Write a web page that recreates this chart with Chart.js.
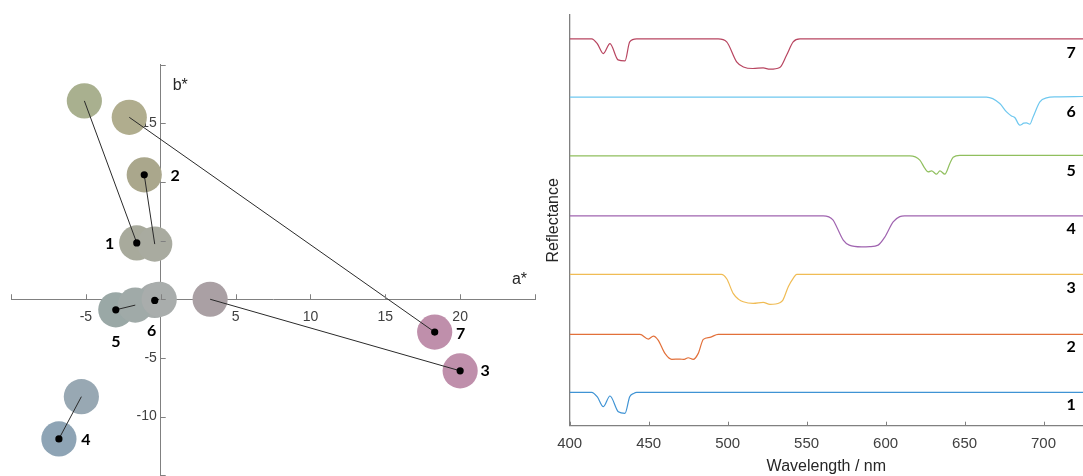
<!DOCTYPE html>
<html><head><meta charset="utf-8">
<script src="https://cdn.jsdelivr.net/npm/chart.js@4.4.1/dist/chart.umd.min.js"></script>
<style>
html,body{margin:0;padding:0;background:#fff;width:1083px;height:476px;overflow:hidden}
#c1{position:absolute;left:0;top:0}
#c2{position:absolute;left:540px;top:0}
</style></head><body>
<canvas id="c1" width="540" height="476"></canvas>
<canvas id="c2" width="543" height="476"></canvas>
<script>
// ---------- left panel data (CIELAB a*, b*) ----------
const sampleIds = ['1','2','3','4','5','6','7'];
const dotA = [-1.6, -1.1, 20.0, -6.8, -3.0, -0.4, 18.3];
const dotB = [4.8, 10.6, -6.1, -11.9, -0.9, -0.1, -2.8];
const refA = [-5.1, -0.4, 3.3, -5.3, -1.7, -0.1, -2.1];
const refB = [16.9, 4.7, 0.0, -8.3, -0.5, 0.0, 15.5];
const dotFill = ['#a8aa9c','#aaa78c','#bf8fab','#8ea4b5','#9aa8a6','#a6abaa','#bf8fab'];
const refFill = ['#a9b08f','#a9aba0','#aaa0a4','#98a8b3','#a0aaa8','#a9adac','#b0ad8e'];
const aTicks = [-10,-5,0,5,10,15,20,25];
const aTickLabels = ['','-5','','5','10','15','20',''];
const bTicks = [-15,-10,-5,0,5,10,15,20];
const bTickLabels = ['','-10','-5','','5','10','15',''];

// ---------- right panel data (reflectance spectra) ----------
const wlTicks = [400,450,500,550,600,650,700];
const traceIds = ['1','2','3','4','5','6','7'];
const traceOffsets = [0,1,2,3,4,5,6];
const traceColors = ['#3f93d4','#e2703a','#f0bc55','#a064b0','#90bf5e','#6fc8ef','#b84560'];
const wl1 = [400,413.9,417.5,421.3,425.5,430.8,435,438,440.5,442.4,725];
const r1  = [0.569,0.569,0.49,0.324,0.506,0.238,0.211,0.494,0.55,0.569,0.569];
const wl2 = [400,444.5,449.8,453,456,460.3,464.6,469.8,472.5,475,478.2,481.4,484.6,488.8,494,725];
const r2  = [0.557,0.557,0.477,0.528,0.460,0.233,0.131,0.136,0.13,0.158,0.131,0.233,0.472,0.506,0.557,0.557];
const wl3 = [400,496,499.5,503.5,507,509.9,516.2,522.5,526.8,533,535,538.4,541.5,543.7,725];
const r3  = [0.579,0.579,0.50,0.255,0.153,0.112,0.085,0.102,0.068,0.095,0.141,0.368,0.511,0.579,0.579];
const wl4 = [400,560.5,566.8,569,573.2,577,584.8,590,595.3,599.5,604.8,609,612,725];
const r4  = [0.577,0.577,0.504,0.390,0.163,0.078,0.049,0.052,0.078,0.214,0.475,0.563,0.577,0.577];
const wl5 = [400,615.4,621.7,624.9,627,629.1,632.3,634.4,637.5,640.7,642.8,647,725];
const r5  = [0.599,0.599,0.526,0.384,0.327,0.344,0.287,0.344,0.287,0.469,0.577,0.606,0.606];
const wl6 = [400,663.9,672.3,676.6,679.7,681.8,685,687.5,689.2,691.3,693.4,697.7,701.9,708.2,725];
const r6  = [0.599,0.599,0.491,0.348,0.28,0.253,0.122,0.156,0.161,0.139,0.263,0.519,0.587,0.604,0.611];
const wl7 = [400,413.9,417.5,421.3,425.5,430.6,435,438,442.4,494,499.4,505.7,510,516,522.5,526.8,533,537.3,541.5,545.8,725];
const r7  = [0.592,0.592,0.51,0.343,0.513,0.235,0.217,0.541,0.592,0.592,0.541,0.200,0.115,0.088,0.098,0.076,0.105,0.314,0.541,0.592,0.592];
const traceWl = [wl1,wl2,wl3,wl4,wl5,wl6,wl7];
const traceR = [r1,r2,r3,r4,r5,r6,r7];

const AX = '#808080', TXT = '#404040';
const tickFont = {family:'Liberation Sans, Arial, sans-serif', size:14};
const numFont = 'bold 16px Lato, "Open Sans", sans-serif';

// label offsets (px) of the sample numbers relative to their dots
const numOffsets = [[-27,1],[31,1],[25,0],[27,1],[0,32],[-3,30],[26,2]];

// ---------- left chart ----------
const dotPts = dotA.map((a,i)=>({x:a,y:dotB[i]}));
const refPts = refA.map((a,i)=>({x:a,y:refB[i]}));
const leftDatasets = [
  {type:'scatter', data:dotPts, pointRadius:3.6, pointBackgroundColor:'#000', pointBorderWidth:0, order:1},
];
sampleIds.forEach((id,i)=>{
  leftDatasets.push({type:'scatter', showLine:true, data:[refPts[i],dotPts[i]], borderColor:'#2a2a2a', borderWidth:1, pointRadius:0, order:2});
});
leftDatasets.push({type:'scatter', data:dotPts.concat(refPts), pointRadius:17.6, pointBorderWidth:0,
  pointBackgroundColor:dotFill.concat(refFill), order:3});

const zeroPad = s => { s.paddingLeft = 0; s.paddingRight = 0; s.paddingTop = 0; s.paddingBottom = 0; };

const leftPlugin = {
  id:'leftDeco',
  afterDraw(chart){
    const ctx = chart.ctx, xs = chart.scales.x, ys = chart.scales.y;
    const x0 = xs.getPixelForValue(0), y0 = ys.getPixelForValue(0);
    ctx.save();
    ctx.strokeStyle = AX; ctx.lineWidth = 1;
    ctx.beginPath();
    aTicks.forEach(v=>{ const p = Math.round(xs.getPixelForValue(v))+0.5; ctx.moveTo(p,y0); ctx.lineTo(p,y0-5); });
    bTicks.forEach(v=>{ const p = Math.round(ys.getPixelForValue(v))+0.5; ctx.moveTo(x0,p); ctx.lineTo(x0+5,p); });
    ctx.stroke();
    ctx.fillStyle = '#262626';
    ctx.font = '16px "Liberation Sans", Arial, sans-serif';
    ctx.textAlign = 'right'; ctx.textBaseline = 'alphabetic';
    ctx.fillText('a*', xs.right-8, y0-15);
    ctx.textAlign = 'left';
    ctx.fillText('b*', x0+12, ys.top+25.5);
    ctx.fillStyle = '#000'; ctx.font = numFont;
    ctx.textAlign = 'center'; ctx.textBaseline = 'middle';
    sampleIds.forEach((id,i)=>{
      const px = xs.getPixelForValue(dotA[i]) + numOffsets[i][0];
      const py = ys.getPixelForValue(dotB[i]) + numOffsets[i][1];
      ctx.fillText(id, px, py);
    });
    ctx.restore();
  }
};

new Chart(document.getElementById('c1'), {
  data:{datasets:leftDatasets},
  options:{
    responsive:false, animation:false,
    layout:{autoPadding:false, padding:{left:11, right:5, top:64.5, bottom:0.7}},
    plugins:{legend:{display:false}, tooltip:{enabled:false}},
    scales:{
      x:{type:'linear', min:-10, max:25, position:{y:0},
        afterBuildTicks:s=>{ s.ticks = aTicks.map(v=>({value:v})); },
        afterFit:zeroPad,
        ticks:{callback:(v,i)=>aTickLabels[i], font:tickFont, color:TXT, padding:9.5, maxRotation:0, autoSkip:false},
        grid:{display:false, drawTicks:false}, border:{color:AX, width:1}},
      y:{type:'linear', min:-15, max:20, position:{x:0},
        afterBuildTicks:s=>{ s.ticks = bTicks.map(v=>({value:v})); },
        afterFit:zeroPad,
        ticks:{callback:(v,i)=>bTickLabels[i] ? bTickLabels[i] + ' ' : '', font:tickFont, color:TXT, padding:4, autoSkip:false},
        grid:{display:false, drawTicks:false}, border:{color:AX, width:1}}
    }
  },
  plugins:[leftPlugin]
});

// ---------- right chart ----------
const rightDatasets = traceIds.map((id,k)=>({
  type:'line',
  data: traceWl[k].map((w,j)=>({x:w, y:traceR[k][j] + traceOffsets[k]})),
  borderColor: traceColors[k], borderWidth:1.2, pointRadius:0,
  cubicInterpolationMode:'monotone', fill:false
}));

const rightPlugin = {
  id:'rightDeco',
  afterDraw(chart){
    const ctx = chart.ctx, xs = chart.scales.x, ys = chart.scales.y;
    ctx.save();
    ctx.strokeStyle = AX; ctx.lineWidth = 1;
    ctx.beginPath();
    wlTicks.forEach(v=>{ const p = Math.round(xs.getPixelForValue(v))+0.5; ctx.moveTo(p,ys.bottom); ctx.lineTo(p,ys.bottom-4); });
    ctx.stroke();
    ctx.fillStyle = '#000'; ctx.font = numFont;
    ctx.textAlign = 'center'; ctx.textBaseline = 'middle';
    traceIds.forEach((id,k)=>{
      ctx.fillText(id, xs.getPixelForValue(717.5), ys.getPixelForValue(traceOffsets[k]+0.35));
    });
    ctx.restore();
  }
};

new Chart(document.getElementById('c2'), {
  data:{datasets:rightDatasets},
  options:{
    responsive:false, animation:false,
    layout:{autoPadding:false, padding:{left:4, top:15, right:0, bottom:0}},
    plugins:{legend:{display:false}, tooltip:{enabled:false}},
    scales:{
      x:{type:'linear', min:400, max:725, position:'bottom',
        afterBuildTicks:s=>{ s.ticks = wlTicks.map(v=>({value:v})); },
        afterFit:s=>{ s.height = 50.3; },
        ticks:{font:{family:'Liberation Sans, Arial, sans-serif', size:15}, color:TXT, padding:9, maxRotation:0, autoSkip:false},
        grid:{display:false, drawTicks:false}, border:{color:AX, width:1.3},
        title:{display:true, text:'Wavelength / nm', font:{family:'Liberation Sans, Arial, sans-serif', size:16}, color:'#262626', padding:{top:0,bottom:0}}},
      y:{type:'linear', min:0, max:7, position:'left',
        afterFit:s=>{ s.width = 25.7; },
        ticks:{display:false},
        grid:{display:false, drawTicks:false}, border:{color:AX, width:1.3},
        title:{display:true, text:'Reflectance', font:{family:'Liberation Sans, Arial, sans-serif', size:16}, color:'#262626', padding:{top:0,bottom:0}}}
    }
  },
  plugins:[rightPlugin]
});
</script>
</body></html>
